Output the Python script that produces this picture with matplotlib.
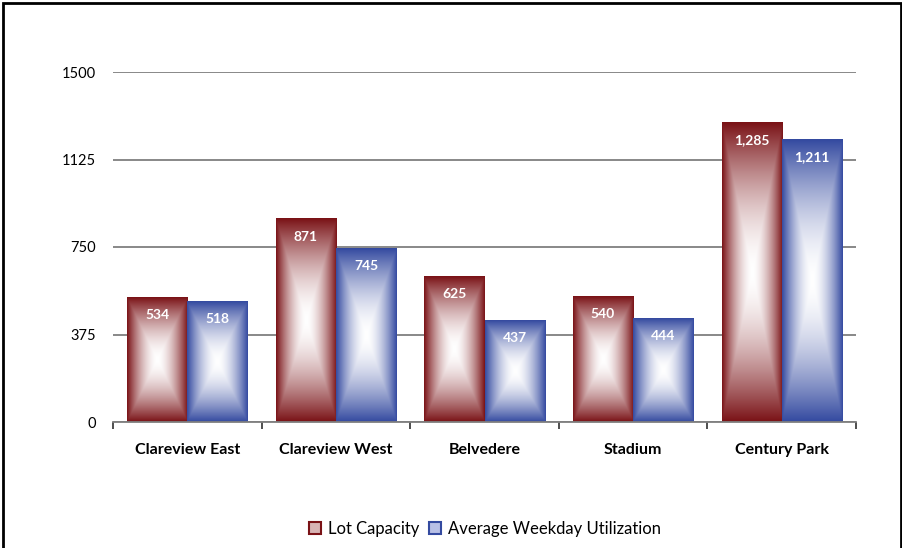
import numpy as np
import matplotlib.pyplot as plt
from matplotlib.patches import Rectangle, Patch

# parking lot data
stations = ["Clareview East", "Clareview West", "Belvedere", "Stadium", "Century Park"]
lot_capacity = [534, 871, 625, 540, 1285]
weekday_use = [518, 745, 437, 444, 1211]
yticks = [0, 375, 750, 1125, 1500]

red = np.array([122, 18, 22]) / 255.0
blue = np.array([52, 74, 160]) / 255.0

plt.rcParams['font.family'] = ['Lato', 'DejaVu Sans']

fig = plt.figure(figsize=(9.02, 5.48), dpi=100)
ax = fig.add_axes([113/902, 126/548, (856-113)/902, 350/548])


def grad_img(color, n=200):
    # rectangular gradient: white in the middle, dark at the edges
    u = np.linspace(-1, 1, n)
    uu, vv = np.meshgrid(u, u)
    t = np.maximum(np.abs(uu), np.abs(vv))
    f = t ** 1.7
    img = np.ones((n, n, 3)) * (1 - f[..., None]) + color[None, None, :] * f[..., None]
    return img


w = 0.405
img_r = grad_img(red)
img_b = grad_img(blue)
for i in range(len(stations)):
    for x0, val, img in [(i - w, lot_capacity[i], img_r), (i, weekday_use[i], img_b)]:
        ax.imshow(img, extent=[x0, x0 + w, 0, val], aspect='auto', zorder=2,
                  interpolation='bilinear')
        ax.annotate(f"{val:,}", (x0 + w / 2, val), xytext=(0, -13),
                    textcoords='offset points', ha='center', va='center',
                    color='white', fontsize=10, fontweight='bold', zorder=3)

ax.set_xlim(-0.5, len(stations) - 0.5)
ax.set_ylim(0, 1500)

ax.set_yticks(yticks)
ax.set_yticklabels([str(v) for v in yticks], fontsize=10.5)
ax.tick_params(axis='y', length=0, pad=12)
ax.grid(axis='y', color='#7f7f7f', linewidth=1.3, zorder=1)
ax.set_axisbelow(True)

ax.set_xticks(range(len(stations)))
ax.set_xticklabels(stations, fontsize=11.5, fontweight='bold')
ax.set_xticks(np.arange(-0.5, len(stations)), minor=True)
ax.tick_params(axis='x', which='major', length=0, pad=15)
ax.tick_params(axis='x', which='minor', length=5, width=1.3, color='#404040')

for s in ['left', 'right', 'top']:
    ax.spines[s].set_visible(False)
ax.spines['bottom'].set_color('#7f7f7f')
ax.spines['bottom'].set_linewidth(1.3)

handles = [Patch(facecolor='#d8b4b4', edgecolor=red, linewidth=1.5, label='Lot Capacity'),
           Patch(facecolor='#b8c0e6', edgecolor=blue, linewidth=1.5, label='Average Weekday Utilization')]
fig.legend(handles=handles, loc='center', bbox_to_anchor=(485/902, 1 - 529/548), ncol=2,
           frameon=False, fontsize=12, handlelength=0.7, handleheight=0.7,
           handletextpad=0.4, columnspacing=0.6)

# outer frame
fig.add_artist(Rectangle((3/902, -0.05), (901-3)/902, 1.05 - 3/548, transform=fig.transFigure,
                         fill=False, edgecolor='black', linewidth=2))

fig.savefig("out.png", dpi=100)
